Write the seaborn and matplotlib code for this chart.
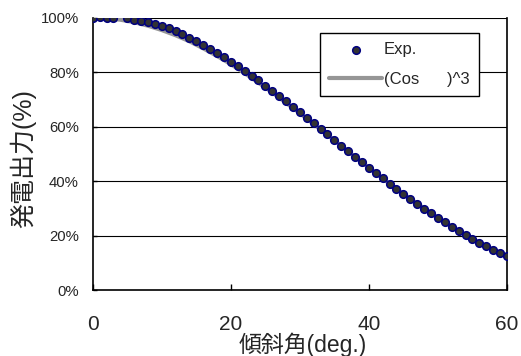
import matplotlib
matplotlib.use("Agg")
import matplotlib.pyplot as plt
import seaborn as sns
import pandas as pd
from matplotlib.ticker import PercentFormatter

# Measured points (tilt angle in deg, output in %)
exp_deg = [0, 1, 2, 3, 5, 6, 7, 8, 9, 10, 11, 12, 13, 14, 15, 16, 17, 18, 19, 20,
           21, 22, 23, 24, 25, 26, 27, 28, 29, 30, 31, 32, 33, 34, 35, 36, 37, 38, 39, 40,
           41, 42, 43, 44, 45, 46, 47, 48, 49, 50, 51, 52, 53, 54, 55, 56, 57, 58, 59, 60]
exp_pct = [100.0, 100.2, 99.9, 99.8, 99.9, 99.2, 98.9, 98.6, 97.9, 97.0,
           96.2, 95.0, 93.9, 92.6, 91.4, 90.0, 88.7, 87.1, 85.6, 83.8,
           82.3, 80.4, 78.7, 77.0, 75.0, 73.2, 71.2, 69.3, 67.3, 65.3,
           63.3, 61.3, 59.2, 57.2, 55.1, 53.1, 51.0, 49.0, 47.0, 45.0,
           43.0, 41.1, 39.1, 37.2, 35.3, 33.5, 31.7, 29.9, 28.2, 26.5,
           24.9, 23.3, 21.7, 20.2, 18.8, 17.4, 16.1, 14.8, 13.6, 12.4]

# (Cos)^3 reference curve
cos_deg = [0, 2, 4, 6, 8, 10, 12, 14, 16, 18, 20, 22, 24, 26, 28, 30,
           32, 34, 36, 38, 40, 42, 44, 46, 48, 50, 52, 54, 56, 58, 60]
cos_pct = [100.0, 99.8, 99.3, 98.4, 97.1, 95.5, 93.6, 91.4, 88.8, 86.0, 83.0, 79.7,
           76.2, 72.6, 68.8, 65.0, 61.0, 57.0, 53.0, 48.9, 45.0, 41.0, 37.2, 33.5,
           30.0, 26.6, 23.3, 20.3, 17.5, 14.9, 12.5]

cos_label = "(Cos      )^3"

exp_df = pd.DataFrame({"deg": exp_deg, "pct": exp_pct})
cos_df = pd.DataFrame({"deg": cos_deg, "pct": cos_pct})

sns.set_theme(style="white")
plt.rcParams["font.family"] = ["Liberation Sans", "Noto Sans CJK JP", "DejaVu Sans"]

fig = plt.figure(figsize=(5.21, 3.56), dpi=100)
ax = fig.add_axes([0.178, 0.185, 0.795, 0.765])

sns.lineplot(data=cos_df, x="deg", y="pct", ax=ax, color="#969696", linewidth=3,
             label=cos_label, zorder=2)
sns.scatterplot(data=exp_df, x="deg", y="pct", ax=ax, color="#333333",
                edgecolor="#000080", linewidth=1.1, s=30, label="Exp.", zorder=3)

ax.set_xlim(0, 60)
ax.set_ylim(0, 100)
ax.set_xticks([0, 20, 40, 60])
ax.set_yticks([0, 20, 40, 60, 80, 100])
ax.yaxis.set_major_formatter(PercentFormatter(decimals=0))
for y in [20, 40, 60, 80, 100]:
    ax.axhline(y, color="black", linewidth=0.8, zorder=1)

for side in ["left", "bottom", "right"]:
    ax.spines[side].set_color("black")
    ax.spines[side].set_linewidth(1.2)
ax.spines["top"].set_visible(False)

ax.tick_params(axis="x", direction="in", length=4, width=1, color="black",
               labelsize=15, pad=18, bottom=True)
ax.tick_params(axis="y", direction="in", length=3, width=1, color="black",
               labelsize=10.7, pad=10, left=True)

ax.set_xlabel("傾斜角(deg.)", fontsize=16.5)
ax.set_ylabel("発電出力(%)", fontsize=18)
ax.xaxis.label.set_va("center")
ax.yaxis.label.set_va("center")
ax.xaxis.set_label_coords(0.507, -0.2)
ax.yaxis.set_label_coords(-0.168, 0.483)

# legend: Exp. first, then the cos curve
handles, labels = ax.get_legend_handles_labels()
order = [labels.index("Exp."), labels.index(cos_label)]
leg = ax.legend([handles[i] for i in order], [labels[i] for i in order],
                loc="upper left", bbox_to_anchor=(0.548, 0.944), borderaxespad=0,
                prop={"size": 12}, frameon=True, fancybox=False, framealpha=1,
                edgecolor="black", handlelength=3.2, handletextpad=0.1,
                borderpad=0.55, labelspacing=0.9)
leg.get_frame().set_linewidth(1.0)
leg.set_zorder(5)

plt.savefig("out.png", dpi=100)
